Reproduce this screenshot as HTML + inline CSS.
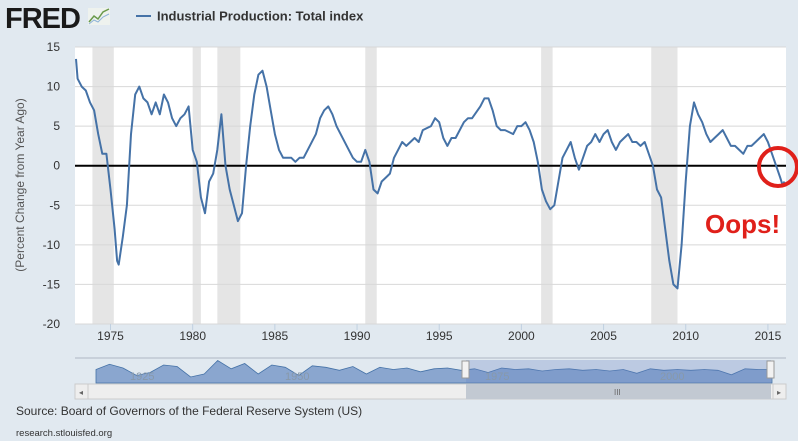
<!DOCTYPE html>
<html><head><meta charset="utf-8"><style>
body{margin:0;background:#e1e9f0;font-family:"Liberation Sans",sans-serif;}
svg{display:block}
</style></head><body>
<svg id="c" width="798" height="441" xmlns="http://www.w3.org/2000/svg">
<rect x="0" y="0" width="798" height="441" fill="#e1e9f0"/>
<g>
<text x="5" y="28" font-size="29" font-weight="bold" fill="#1a1a1a" font-family="Liberation Sans, sans-serif" letter-spacing="-1">FRED</text>
<rect x="88" y="8" width="22" height="17" fill="#eef2ee"/>
<polyline points="89,22 94,16 98,19 103,12 109,9" fill="none" stroke="#6a9a4a" stroke-width="1.5"/>
<polyline points="89,24 94,20 98,22 103,17 109,14" fill="none" stroke="#8fb4d8" stroke-width="1"/>
</g>
<g>
<line x1="136" y1="16" x2="151" y2="16" stroke="#4572a7" stroke-width="2"/>
<text x="157" y="20.5" font-size="13" font-weight="bold" fill="#333">Industrial Production: Total index</text>
</g>
<text transform="translate(24,185) rotate(-90)" text-anchor="middle" font-size="12" fill="#555">(Percent Change from Year Ago)</text>
<rect x="75" y="47" width="711" height="277" fill="#fff"/>
<g id="rec"></g><g id="grid"></g><g id="yl"></g><g id="xl"></g>
<line id="zero" stroke="#000" stroke-width="2"/>
<path id="series" fill="none" stroke="#4572a7" stroke-width="2" stroke-linejoin="round"/>
<circle cx="778" cy="167" r="19" fill="none" stroke="#e0201a" stroke-width="4"/>
<text x="705" y="233" font-size="26" font-weight="bold" fill="#e0201a">Oops!</text>
<g>
<line x1="75" y1="358" x2="786" y2="358" stroke="#b0b8c4"/>
<path id="navfill" fill="#8aa6cf" stroke="#4572a7" stroke-width="0.8"/>
<rect x="466" y="360" width="305" height="23" fill="#6685c2" fill-opacity="0.3"/>
<text x="130" y="380" font-size="11" fill="#8899aa">1925</text>
<text x="285" y="380" font-size="11" fill="#8899aa">1950</text>
<text x="485" y="380" font-size="11" fill="#8899aa">1975</text>
<text x="660" y="380" font-size="11" fill="#8899aa">2000</text>
<rect x="462" y="361" width="7" height="17" fill="#f2f2f2" stroke="#999"/>
<rect x="767" y="361" width="7" height="17" fill="#f2f2f2" stroke="#999"/>
<rect x="75" y="384" width="711" height="15" fill="#eeeeee" stroke="#ccc"/>
<rect x="466" y="384" width="305" height="15" fill="#c2c9d2"/>
<text x="614" y="395" font-size="8" fill="#666">III</text>
<rect x="75" y="384" width="13" height="15" fill="#eee" stroke="#ccc"/>
<text x="79" y="395" font-size="8" fill="#666">◂</text>
<rect x="773" y="384" width="13" height="15" fill="#eee" stroke="#ccc"/>
<text x="777" y="395" font-size="8" fill="#666">▸</text>
</g>
<text x="16" y="415" font-size="12" fill="#333">Source: Board of Governors of the Federal Reserve System (US)</text>
<text x="16" y="436" font-size="9.5" fill="#333">research.stlouisfed.org</text>
</svg>
<script>
const years=[1972.9,1973,1973.25,1973.5,1973.75,1974,1974.25,1974.5,1974.75,1975,1975.25,1975.4,1975.5,1975.75,1976,1976.25,1976.5,1976.75,1977,1977.25,1977.5,1977.75,1978,1978.25,1978.5,1978.75,1979,1979.25,1979.5,1979.75,1980,1980.25,1980.5,1980.75,1981,1981.25,1981.5,1981.75,1982,1982.25,1982.5,1982.75,1983,1983.25,1983.5,1983.75,1984,1984.25,1984.5,1984.75,1985,1985.25,1985.5,1985.75,1986,1986.25,1986.5,1986.75,1987,1987.5,1987.75,1988,1988.25,1988.5,1988.75,1989,1989.5,1989.75,1990,1990.25,1990.5,1990.75,1991,1991.25,1991.5,1991.75,1992,1992.25,1992.5,1992.75,1993,1993.25,1993.5,1993.75,1994,1994.5,1994.75,1995,1995.25,1995.5,1995.75,1996,1996.5,1996.75,1997,1997.5,1997.75,1998,1998.25,1998.5,1998.75,1999,1999.5,1999.75,2000,2000.25,2000.5,2000.75,2001,2001.25,2001.5,2001.75,2002,2002.25,2002.5,2002.75,2003,2003.25,2003.5,2003.75,2004,2004.25,2004.5,2004.75,2005,2005.25,2005.5,2005.75,2006,2006.25,2006.5,2006.75,2007,2007.25,2007.5,2007.75,2008,2008.25,2008.5,2008.75,2009,2009.25,2009.5,2009.75,2010,2010.25,2010.5,2010.75,2011,2011.25,2011.5,2011.75,2012,2012.25,2012.5,2012.75,2013,2013.25,2013.5,2013.75,2014,2014.25,2014.5,2014.75,2015,2015.25,2015.5,2015.75,2015.9,2016];
const values=[13.5,11,10,9.5,8,7,4,1.5,1.5,-3,-8,-12,-12.5,-9,-5,4,9,10,8.5,8,6.5,8,6.5,9,8,6,5,6,6.5,7.5,2,0.5,-4,-6,-2,-1,2,6.5,0,-3,-5,-7,-6,0,5,9,11.5,12,10,7,4,2,1,1,1,0.5,1,1,2,4,6,7,7.5,6.5,5,4,2,1,0.5,0.5,2,0.5,-3,-3.5,-2,-1.5,-1,1,2,3,2.5,3,3.5,3,4.5,5,6,5.5,3.5,2.5,3.5,3.5,5.5,6,6,7.5,8.5,8.5,7,5,4.5,4.5,4,5,5,5.5,4.5,3,0.5,-3,-4.5,-5.5,-5,-2,1,2,3,1,-0.5,1,2.5,3,4,3,4,4.5,3,2,3,3.5,4,3,3,2.5,3,1.5,0,-3,-4,-8,-12,-15,-15.5,-10,-2,5,8,6.5,5.5,4,3,3.5,4,4.5,3.5,2.5,2.5,2,1.5,2.5,2.5,3,3.5,4,3,1.5,0,-1.5,-2.5,-2];
const recStart=[1973.9,1980.0,1981.5,1990.5,2001.2,2007.9];
const recEnd=[1975.2,1980.5,1982.9,1991.2,2001.9,2009.5];
const yTicks=[15,10,5,0,-5,-10,-15,-20];
const xTicks=[1975,1980,1985,1990,1995,2000,2005,2010,2015];
const navValues=[2,9,4,-6,-2,8,6,-8,-4,14,3,10,-4,8,5,-6,7,5,1,6,-4,5,2,4,-1,3,4,1,3,-2,4,2,3,0,2,3,1,2,0,2,-3,3,1,2,1,2,1,-5,3,2,2];
const NS="http://www.w3.org/2000/svg";
const X0=75,X1=786,Y0=47,Y1=324,T0=1972.84,T1=2016.1,V0=15,V1=-20;
const x=t=>X0+(t-T0)/(T1-T0)*(X1-X0);
const y=v=>Y0+(V0-v)/(V0-V1)*(Y1-Y0);
function mk(tag,attrs,parent){const e=document.createElementNS(NS,tag);for(const k in attrs)e.setAttribute(k,attrs[k]);document.getElementById(parent).appendChild(e);return e;}
recStart.forEach((s,i)=>{const r=mk('rect',{x:x(s),y:Y0,width:x(recEnd[i])-x(s),height:Y1-Y0,fill:'#e5e5e5'},'rec');

});
yTicks.forEach(v=>{const l=mk('line',{x1:X0,x2:X1,y1:y(v),y2:y(v),stroke:'#d8d8d8'},'grid');


const t=mk('text',{x:60,y:y(v)+4,'text-anchor':'end','font-size':12,fill:'#333'},'yl');t.textContent=v;

});
xTicks.forEach(yr=>{const l=mk('line',{x1:x(yr),x2:x(yr),y1:Y1,y2:Y1+6,stroke:'#c0d0e0'},'xl');


const t=mk('text',{x:x(yr),y:Y1+16,'text-anchor':'middle','font-size':12,fill:'#333'},'xl');t.textContent=yr;

});
const z=document.getElementById('zero');z.setAttribute('x1',X0);z.setAttribute('x2',X1);z.setAttribute('y1',y(0));z.setAttribute('y2',y(0));
document.getElementById('series').setAttribute('d',years.map((t,i)=>(i?'L':'M')+x(t).toFixed(1)+','+y(values[i]).toFixed(1)).join(''));
const NX0=96,NX1=772,NYb=383,NYm=371;
const nx=i=>NX0+i/(navValues.length-1)*(NX1-NX0);
const ny=v=>NYm-v*0.75;
document.getElementById('navfill').setAttribute('d','M'+NX0+','+NYb+navValues.map((v,i)=>'L'+nx(i).toFixed(1)+','+ny(v).toFixed(1)).join('')+'L'+NX1+','+NYb+'Z');
</script>
</body></html>
